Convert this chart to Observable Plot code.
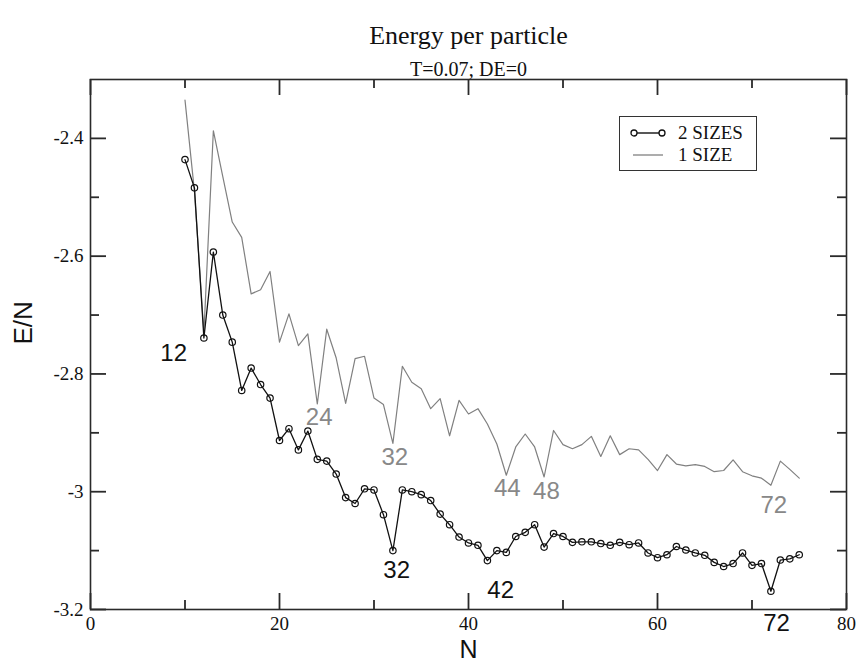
<!DOCTYPE html>
<html><head><meta charset="utf-8">
<script src="https://cdn.jsdelivr.net/npm/d3@7"></script>
<script src="https://cdn.jsdelivr.net/npm/@observablehq/plot@0.6"></script>
<style>
body{margin:0;background:#fff}
#wrap{position:relative;width:856px;height:667px}
#legend{position:absolute;left:619px;top:116px;width:136px;height:53px;border:1.5px solid #333;background:#fff;font-family:"Liberation Serif",serif;font-size:19px;color:#111}
#legend .row{position:absolute;left:0;height:22px;line-height:22px;white-space:nowrap}
#legend svg{position:absolute;left:10px;top:0}
#legend span{position:absolute;left:58px}
</style>
</head><body>
<div id="wrap"><div id="chart"></div>
<div id="legend">
  <div class="row" style="top:5px"><svg width="36" height="22"><line x1="3" y1="11" x2="33" y2="11" stroke="#111" stroke-width="1.4"/><circle cx="4" cy="11" r="3" fill="#fff" stroke="#111" stroke-width="1.3"/><circle cx="32" cy="11" r="3" fill="#fff" stroke="#111" stroke-width="1.3"/></svg><span>2 SIZES</span></div>
  <div class="row" style="top:27px"><svg width="36" height="22"><line x1="3" y1="11" x2="33" y2="11" stroke="#777" stroke-width="1.2"/></svg><span>1 SIZE</span></div>
</div>
</div>
<script>
// N values (cluster size)
const N2 = [10,11,12,13,14,15,16,17,18,19,20,21,22,23,24,25,26,27,28,29,30,31,32,33,34,35,36,37,38,39,40,41,42,43,44,45,46,47,48,49,50,51,52,53,54,55,56,57,58,59,60,61,62,63,64,65,66,67,68,69,70,71,72,73,74,75];
// E/N for 2 SIZES
const E2 = [-2.436,-2.484,-2.739,-2.593,-2.700,-2.746,-2.828,-2.790,-2.818,-2.841,-2.913,-2.893,-2.929,-2.897,-2.945,-2.948,-2.970,-3.010,-3.020,-2.995,-2.997,-3.039,-3.100,-2.997,-3.000,-3.005,-3.015,-3.038,-3.056,-3.077,-3.087,-3.091,-3.117,-3.100,-3.103,-3.076,-3.069,-3.056,-3.094,-3.071,-3.076,-3.086,-3.085,-3.085,-3.088,-3.091,-3.086,-3.090,-3.087,-3.104,-3.112,-3.107,-3.093,-3.099,-3.104,-3.108,-3.120,-3.127,-3.122,-3.104,-3.125,-3.122,-3.169,-3.116,-3.114,-3.107];
const N1 = [10,11,12,13,14,15,16,17,18,19,20,21,22,23,24,25,26,27,28,29,30,31,32,33,34,35,36,37,38,39,40,41,42,43,44,45,46,47,48,49,50,51,52,53,54,55,56,57,58,59,60,61,62,63,64,65,66,67,68,69,70,71,72,73,74,75];
// E/N for 1 SIZE
const E1 = [-2.335,-2.490,-2.730,-2.387,-2.465,-2.542,-2.568,-2.664,-2.657,-2.626,-2.746,-2.698,-2.752,-2.732,-2.851,-2.724,-2.773,-2.850,-2.774,-2.770,-2.841,-2.852,-2.918,-2.787,-2.814,-2.825,-2.859,-2.842,-2.905,-2.845,-2.868,-2.859,-2.885,-2.919,-2.972,-2.924,-2.902,-2.924,-2.975,-2.896,-2.920,-2.927,-2.920,-2.906,-2.940,-2.905,-2.937,-2.927,-2.929,-2.945,-2.964,-2.937,-2.953,-2.956,-2.954,-2.957,-2.966,-2.964,-2.946,-2.966,-2.973,-2.977,-2.989,-2.948,-2.962,-2.977];
// annotation labels (anchored in data space)
const blackLabelText = ["12","32","42","72"];
const blackLabelN = [8.8,32.4,43.4,72.6];
const blackLabelE = [-2.765,-3.133,-3.167,-3.224];
const grayLabelText = ["24","32","44","48","72"];
const grayLabelN = [24.2,32.2,44.1,48.25,72.3];
const grayLabelE = [-2.873,-2.941,-2.995,-2.999,-3.023];
// ticks
const xMajor = [0,20,40,60,80], xMinor = [10,30,50,70];
const yMajor = [-3.2,-3,-2.8,-2.6,-2.4], yMinor = [-3.1,-2.9,-2.7,-2.5];
const xDom = [0,80], yDom = [-3.2,-2.3];

const two = N2.map((n,i)=>({N:n,E:E2[i]}));
const one = N1.map((n,i)=>({N:n,E:E1[i]}));
const blk = blackLabelText.map((t,i)=>({t,N:blackLabelN[i],E:blackLabelE[i]}));
const gry = grayLabelText.map((t,i)=>({t,N:grayLabelN[i],E:grayLabelE[i]}));

const W = 856, H = 667, mL = 90, mR = 10, mT = 79, mB = 58;
const fw = W - mL - mR, fh = H - mT - mB;
const tc = "#2a2a2a", tw = 1.8;
const MAJ = 16, MIN = 9;
// tick lengths converted from pixels into data units of the perpendicular scale
const kx = (xDom[1]-xDom[0])/fw, ky = (yDom[1]-yDom[0])/fh;

const serif = "Liberation Serif, Times New Roman, serif";
const sans = "Liberation Sans, Arial, Helvetica, sans-serif";

function xt(vals, len, atBottom){
  return Plot.ruleX(vals, {x:d=>d,
    y1: atBottom ? yDom[0] : yDom[1],
    y2: atBottom ? yDom[0] + len*ky : yDom[1] - len*ky,
    stroke:tc, strokeWidth:tw});
}
function yt(vals, len, atLeft){
  return Plot.ruleY(vals, {y:d=>d,
    x1: atLeft ? xDom[0] : xDom[1],
    x2: atLeft ? xDom[0] + len*kx : xDom[1] - len*kx,
    stroke:tc, strokeWidth:tw});
}

const chart = Plot.plot({
  width:W, height:H,
  marginLeft:mL, marginRight:mR, marginTop:mT, marginBottom:mB,
  x:{domain:xDom},
  y:{domain:yDom},
  style:{background:"#fff"},
  marks:[
    Plot.axisX({ticks:xMajor, tickSize:0, tickPadding:7, fontSize:19, fontFamily:serif, tickFormat:d=>String(d), label:null, color:"#111"}),
    Plot.axisY({ticks:yMajor, tickSize:0, tickPadding:7, fontSize:19, fontFamily:serif, tickFormat:d=>String(d), label:null, color:"#111"}),
    // inward ticks on all four sides
    xt(xMajor, MAJ, true), xt(xMinor, MIN, true),
    xt(xMajor, MAJ, false), xt(xMinor, MIN, false),
    yt(yMajor, MAJ, true), yt(yMinor, MIN, true),
    yt(yMajor, MAJ, false), yt(yMinor, MIN, false),
    Plot.frame({stroke:tc, strokeWidth:1.6}),
    Plot.line(one, {x:"N", y:"E", stroke:"#808080", strokeWidth:1.2}),
    Plot.line(two, {x:"N", y:"E", stroke:"#111", strokeWidth:1.3}),
    Plot.dot(two, {x:"N", y:"E", r:3.2, stroke:"#111", strokeWidth:1.2, fill:"none"}),
    Plot.text(blk, {x:"N", y:"E", text:"t", fill:"#111", fontSize:24, fontFamily:sans}),
    Plot.text(gry, {x:"N", y:"E", text:"t", fill:"#888", fontSize:24, fontFamily:sans}),
    // titles and axis labels
    Plot.text(["Energy per particle"], {frameAnchor:"top", dy:-54, fontSize:26, fontFamily:serif, fill:"#111"}),
    Plot.text(["T=0.07; DE=0"], {frameAnchor:"top", dy:-18, fontSize:20, fontFamily:serif, fill:"#111"}),
    Plot.text(["N"], {frameAnchor:"bottom", dy:48, fontSize:25, fontFamily:sans, fill:"#111"}),
    Plot.text(["E/N"], {frameAnchor:"left", dx:-67, rotate:-90, fontSize:26, fontFamily:sans, fill:"#111"})
  ]
});
document.getElementById("chart").appendChild(chart);
</script>
</body></html>
